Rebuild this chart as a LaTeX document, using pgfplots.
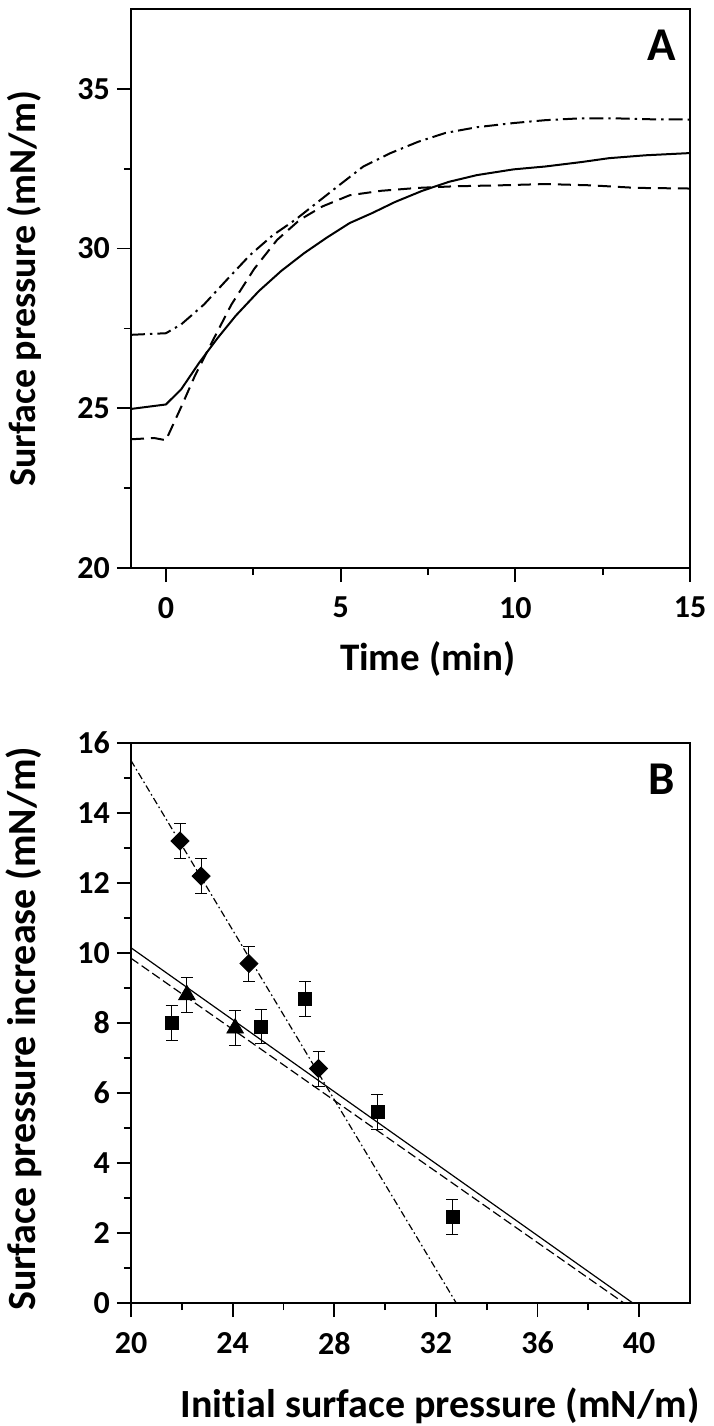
\documentclass[border=0pt]{standalone}
\usepackage{fontspec}
\setmainfont{Carlito}[Ligatures={NoCommon}]
\usepackage{pgfplots}
\pgfplotsset{compat=1.18}
\begin{document}
\begin{tikzpicture}
\pgfplotsset{
  myax/.style={
    scale only axis, width=279.5pt, height=279.5pt,
    anchor=north west,
    tick align=outside, xtick pos=bottom, ytick pos=left,
    major tick length=7pt, minor tick length=3.5pt,
    axis line style={line width=0.9pt},
    tick style={line width=0.9pt, black},
    /pgf/number format/assume math mode=true,
    tick label style={font=\fontsize{16}{18}\selectfont\bfseries},
    xticklabel style={yshift=-4pt},
    minor x tick num=1, minor y tick num=1,
  },
  errb/.style={only marks, black, error bars/y dir=both, error bars/y explicit,
    error bars/error bar style={line width=0.5pt},
    error bars/error mark options={rotate=90, mark size=3pt, line width=0.5pt}},
}
\begin{axis}[myax, at={(65.5pt,-4.5pt)},
  xmin=-1, xmax=15, ymin=20, ymax=37.5,
  xtick={0,5,10,15}, ytick={20,25,30,35},
  xlabel={Time (min)}, ylabel={Surface pressure (mN/m)},
  xlabel style={font=\fontsize{19.5}{22}\selectfont\bfseries, at={(axis description cs:0.531,0)}, anchor=base, yshift=-51pt},
  ylabel style={font=\fontsize{19}{22}\selectfont\bfseries, at={(axis description cs:-0.17,0.5)}, anchor=base},
]
% solid
\addplot[black, line width=1pt] coordinates {
(-1,24.98) (0,25.12) (0.44,25.6) (0.96,26.44) (1.48,27.2) (2.0,27.9) (2.66,28.67)
(3.3,29.3) (3.96,29.86) (4.6,30.34) (5.26,30.8) (5.9,31.11) (6.56,31.46) (7.34,31.81)
(8.1,32.09) (8.9,32.3) (9.95,32.48) (10.86,32.57) (11.9,32.71) (12.68,32.83) (13.72,32.92) (15,32.99)};
% dashed
\addplot[black, line width=1pt, dash pattern=on 6.5pt off 3.5pt] coordinates {
(-1,24.03) (-0.34,24.07) (0,24.0) (0.44,25.05) (0.83,26.02) (1.35,27.14) (1.875,28.25)
(2.53,29.37) (3.18,30.27) (3.83,30.9) (4.48,31.32) (5.26,31.67) (6.17,31.81) (7.21,31.9)
(8.26,31.95) (9.56,31.98) (10.86,32.02) (12.16,31.98) (13.46,31.9) (15,31.88)};
% dash-dot
\addplot[black, line width=1pt, dash pattern=on 7pt off 2.5pt on 1.2pt off 2.5pt] coordinates {
(-1,27.3) (0,27.35) (0.44,27.63) (1.09,28.25) (1.74,29.02) (2.4,29.79) (3.05,30.41)
(3.7,30.9) (4.35,31.46) (5.0,32.02) (5.65,32.57) (6.43,32.99) (7.21,33.34) (8.0,33.62)
(8.9,33.8) (9.95,33.93) (10.86,34.02) (11.9,34.08) (12.8,34.08) (13.7,34.05) (15,34.04)};
\node[font=\fontsize{23.5}{26}\selectfont\bfseries, inner sep=0pt, anchor=north] at (axis description cs:0.95,0.964) {A};
\end{axis}

\begin{axis}[myax, at={(65.5pt,-371.5pt)}, height=280pt,
  xmin=20, xmax=42, ymin=0, ymax=16,
  xtick={20,24,...,40}, ytick={0,2,...,16},
  xlabel={Initial surface pressure (mN/m)}, ylabel={Surface pressure increase (mN/m)},
  xlabel style={font=\fontsize{20}{23}\selectfont\bfseries, at={(axis description cs:0.553,0)}, anchor=base, yshift=-57pt},
  ylabel style={font=\fontsize{20}{23}\selectfont\bfseries, at={(axis description cs:-0.17,0.49)}, anchor=base},
]
\addplot[black, line width=0.6pt] coordinates {(20,10.15) (39.75,0)};
\addplot[black, line width=0.6pt, dash pattern=on 4.5pt off 2pt] coordinates {(20,9.85) (39.4,0)};
\addplot[black, line width=0.6pt, dash pattern=on 3.5pt off 1.5pt on 0.8pt off 1.5pt] coordinates {(20,15.5) (32.8,0)};
% squares
\addplot[errb, mark=square*, mark size=3.25pt] table[x=x, y=y, y error=e] {
x y e
21.6 8.0 0.5
25.12 7.9 0.48
26.85 8.7 0.5
29.7 5.45 0.5
32.65 2.45 0.5
};
% triangles
\addplot[errb, mark=triangle*, mark size=4.8pt] table[x=x, y=y, y error=e] {
x y e
22.2 8.8 0.5
24.1 7.85 0.5
};
% diamonds
\addplot[errb, mark=square*, mark size=3.2pt, mark options={rotate=45}] table[x=x, y=y, y error=e] {
x y e
21.93 13.2 0.5
22.76 12.2 0.5
24.64 9.7 0.5
27.38 6.7 0.5
};
\node[font=\fontsize{23.5}{26}\selectfont\bfseries, inner sep=0pt, anchor=north] at (axis description cs:0.95,0.964) {B};
\end{axis}
\pgfresetboundingbox
\path[use as bounding box] (0,0) rectangle (356.5pt,-713pt);
\end{tikzpicture}
\end{document}
